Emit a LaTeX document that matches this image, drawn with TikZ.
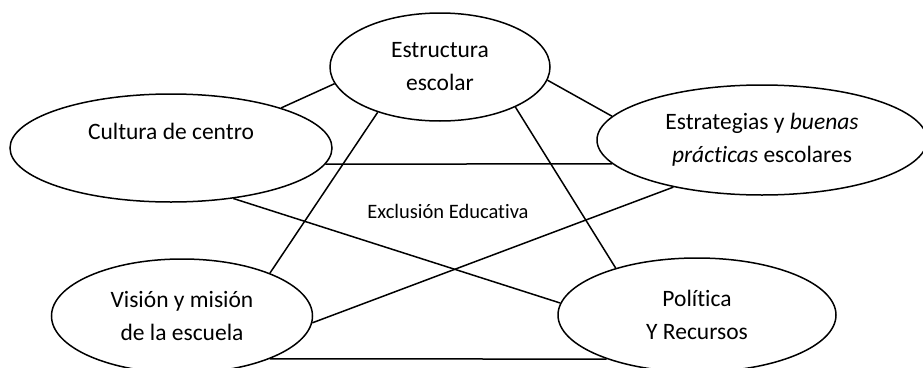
\documentclass[tikz,border=0pt]{standalone}
\usepackage{fontspec}
\setmainfont{Carlito}[Ligatures=NoCommon]
\usetikzlibrary{shapes.geometric}
\begin{document}
\begin{tikzpicture}[x=1pt,y=-1pt,
  bubble/.style={ellipse, draw, line width=1.5pt, inner sep=0pt, align=center,
    font=\fontsize{23.5}{33}\selectfont},
  link/.style={line width=1.5pt},
  caption/.style={font=\fontsize{20.5}{25}\selectfont, anchor=base}]
\useasboundingbox (0,0) rectangle (923,367);

% the five dimensions
\node[bubble, minimum width=220pt, minimum height=108pt] (E) at (440,67) {Estructura\\escolar};
\node[bubble, minimum width=322pt, minimum height=108pt] (C) at (171,148) {Cultura de centro\\\mbox{}};
\node[bubble, minimum width=330pt, minimum height=110pt] (S) at (762,140) {Estrategias y \textit{buenas}\\\textit{prácticas} escolares};
\node[bubble, minimum width=261pt, minimum height=114pt] (V) at (182,316) {Visión y misión\\de la escuela};
\node[bubble, minimum width=278pt, minimum height=114pt] (P) at (697,315) {Política\\Y Recursos};

% central theme
\node[caption] (X) at (448,218) {Exclusión Educativa};

% every dimension linked to every other one
\draw[link] (C.20.6) -- (E.189);
\draw[link] (C.-6) -- (S.189.3);
\draw[link] (C.-39.4) -- (P.175.8);
\draw[link] (E.-7.9) -- (S.171.4);
\draw[link] (E.216.1) -- (V.26);
\draw[link] (E.-28) -- (P.150.5);
\draw[link] (S.208.3) -- (V.-3.1);
\draw[link] (V.-26.1) -- (P.206);
\end{tikzpicture}
\end{document}
